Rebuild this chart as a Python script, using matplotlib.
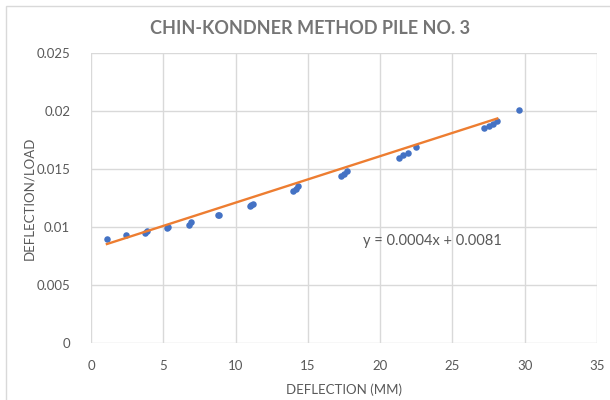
import numpy as np
import matplotlib.pyplot as plt
from matplotlib.patches import Rectangle

# values
deflection = [1.1, 2.4, 3.75, 3.85, 5.25, 5.3, 6.8, 6.95, 8.75, 8.85,
              11.0, 11.1, 11.2, 14.0, 14.2, 14.35, 17.3, 17.5, 17.7,
              21.3, 21.6, 21.9, 22.5, 27.2, 27.5, 27.8, 28.1, 29.6]
defl_per_load = [0.0090, 0.0093, 0.0095, 0.0097, 0.0099, 0.0100, 0.0102, 0.0104,
                 0.0110, 0.0110, 0.0118, 0.0119, 0.0120, 0.0131, 0.0133, 0.0135,
                 0.0144, 0.0146, 0.0148, 0.0159, 0.0162, 0.0164, 0.0169,
                 0.0185, 0.0187, 0.0189, 0.0191, 0.0201]

# trendline as shown on the chart (spans the first to the 2nd-last point)
trend_slope = 0.0004
trend_intercept = 0.0081
trend_x = [deflection[0], deflection[-2]]

x_ticks = [0, 5, 10, 15, 20, 25, 30, 35]
y_ticks = [0, 0.005, 0.01, 0.015, 0.02, 0.025]
y_tick_labels = ["0", "0.005", "0.01", "0.015", "0.02", "0.025"]

TEXT = "#595959"
GRID = "#D9D9D9"
plt.rcParams["font.family"] = ["Lato", "DejaVu Sans"]

fig = plt.figure(figsize=(6.1, 4.0), dpi=100)
ax = fig.add_axes([91 / 610, 1 - 343.3 / 400, 506 / 610, 290.6 / 400])

# chart-area border (cut off at right and bottom like in the screenshot)
fig.patches.append(Rectangle((6 / 610, -0.1), 1.2, 1.1 - 6 / 400,
                             transform=fig.transFigure, fill=False,
                             edgecolor=GRID, lw=1.0, clip_on=False))

ax.scatter(deflection, defl_per_load, s=22, color="#4472C4", zorder=3, linewidths=0)
tx = np.array(trend_x)
ax.plot(tx, trend_slope * tx + trend_intercept, color="#ED7D31", lw=1.7, zorder=4)

ax.set_xlim(0, 35)
ax.set_ylim(0, 0.025)
ax.set_xticks(x_ticks)
ax.set_yticks(y_ticks)
ax.set_yticklabels(y_tick_labels)
ax.tick_params(length=0, labelsize=9.5, colors=TEXT)
ax.tick_params(axis="x", pad=12)
ax.tick_params(axis="y", pad=15)
ax.grid(True, color=GRID, lw=1.0)
ax.set_axisbelow(True)
for s in ax.spines.values():
    s.set_visible(False)

ax.set_xlabel("DEFLECTION (MM)", fontsize=9.5, color=TEXT, labelpad=8)
ax.set_ylabel("DEFLECTION/LOAD", fontsize=9.5, color=TEXT, labelpad=1)

ax.text(18.8, 0.00883, "y = 0.0004x + 0.0081", fontsize=10.5, color=TEXT,
        ha="left", va="center")

fig.text(310 / 610, 1 - 29 / 400, "CHIN-KONDNER METHOD PILE NO. 3",
         fontsize=13, fontweight="bold", color="#757575",
         ha="center", va="center")

fig.savefig("out.png", dpi=100)
